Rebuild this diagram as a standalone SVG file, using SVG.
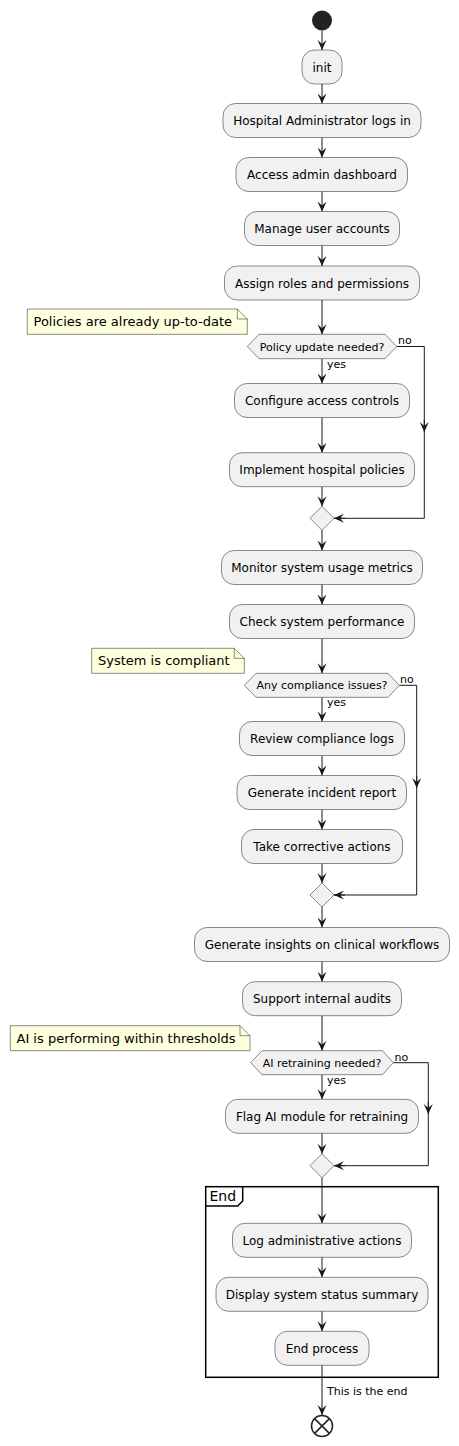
<svg xmlns="http://www.w3.org/2000/svg" width="459" height="1446" viewBox="0 0 459 1446">
<style>
.box{fill:#F1F1F1;stroke:#181818;stroke-width:0.5}
.note{fill:#FEFFDD;stroke:#181818;stroke-width:0.5}
.t{font-family:"DejaVu Sans",sans-serif;font-size:12px;fill:#000;text-anchor:middle}
.d{font-family:"DejaVu Sans",sans-serif;font-size:11px;fill:#000;text-anchor:middle}
.l{font-family:"DejaVu Sans",sans-serif;font-size:11px;fill:#000}
.n{font-family:"DejaVu Sans",sans-serif;font-size:13px;fill:#000}
.c{fill:none;stroke:#181818;stroke-width:1}
.ca{fill:none;stroke:#181818;stroke-width:1;marker-end:url(#ah)}
</style>
<defs>
<marker id="ah" viewBox="0 0 10 10" refX="10" refY="5" markerWidth="10" markerHeight="10" markerUnits="userSpaceOnUse" orient="auto">
<path d="M0,0.5 L10,5 L0,9.5 L4,5 Z" fill="#181818"/>
</marker>
</defs>
<rect width="459" height="1446" fill="#FFFFFF"/>

<g id="connectors">
<path class="ca" d="M322,30.5 L322,50"/>
<path class="ca" d="M322,84 L322,103.5"/>
<path class="ca" d="M322,137.5 L322,157.5"/>
<path class="ca" d="M322,191.5 L322,211.5"/>
<path class="ca" d="M322,245.5 L322,266"/>
<path class="ca" d="M322,300 L322,334.3"/>
<path class="ca" d="M322,358.7 L322,383.5"/>
<path class="ca" d="M322,417.5 L322,452.7"/>
<path class="ca" d="M322,486.7 L322,506.3"/>
<path class="c" d="M396.7,346.5 L424.3,346.5 L424.3,518.3 L334,518.3"/>
<path class="ca" d="M424.3,420 L424.3,432"/>
<path class="ca" d="M345,518.3 L334,518.3"/>
<path class="ca" d="M322,530.3 L322,550.5"/>
<path class="ca" d="M322,584.5 L322,604.5"/>
<path class="ca" d="M322,638.5 L322,673.3"/>
<path class="ca" d="M322,697.3 L322,721.5"/>
<path class="ca" d="M322,755.5 L322,775.5"/>
<path class="ca" d="M322,809.5 L322,829.5"/>
<path class="ca" d="M322,863.5 L322,883"/>
<path class="c" d="M399.3,685.3 L416.7,685.3 L416.7,895 L334,895"/>
<path class="ca" d="M416.7,776 L416.7,788"/>
<path class="ca" d="M345,895 L334,895"/>
<path class="ca" d="M322,907 L322,927.5"/>
<path class="ca" d="M322,961.5 L322,981.7"/>
<path class="ca" d="M322,1015.7 L322,1050.7"/>
<path class="ca" d="M322,1074.7 L322,1099.3"/>
<path class="ca" d="M322,1133.3 L322,1153.7"/>
<path class="c" d="M393.3,1062.7 L428.3,1062.7 L428.3,1165.7 L334,1165.7"/>
<path class="ca" d="M428.3,1102 L428.3,1114"/>
<path class="ca" d="M345,1165.7 L334,1165.7"/>
<path class="ca" d="M322,1177.7 L322,1223.3"/>
<path class="ca" d="M322,1257.3 L322,1277.3"/>
<path class="ca" d="M322,1311.3 L322,1331.3"/>
<path class="ca" d="M322,1365.3 L322,1415"/>
<text class="l" x="398" y="344">no</text>
<text class="l" x="327" y="367.5">yes</text>
<text class="l" x="400" y="683">no</text>
<text class="l" x="327" y="706">yes</text>
<text class="l" x="394.5" y="1060.5">no</text>
<text class="l" x="327" y="1084">yes</text>
<text class="l" x="327" y="1395">This is the end</text>
</g>

<g id="start"><circle cx="322" cy="20.5" r="10" fill="#222222"/></g>

<g id="init"><rect class="box" x="302" y="50" width="40" height="34" rx="12.5"/><text class="t" x="322" y="71.5">init</text></g>
<g id="login"><rect class="box" x="223" y="103.5" width="198" height="34" rx="12.5"/><text class="t" x="322" y="125">Hospital Administrator logs in</text></g>
<g id="dashboard"><rect class="box" x="236" y="157.5" width="171.5" height="34" rx="12.5"/><text class="t" x="322" y="179">Access admin dashboard</text></g>
<g id="manage"><rect class="box" x="244.5" y="211.5" width="155" height="34" rx="12.5"/><text class="t" x="322" y="233">Manage user accounts</text></g>
<g id="assign"><rect class="box" x="224.5" y="266" width="195" height="34" rx="12.5"/><text class="t" x="322" y="287.5">Assign roles and permissions</text></g>

<g id="note1"><path class="note" d="M27.3,309 L237.3,309 L247.3,319 L247.3,334.3 L27.3,334.3 Z"/><path class="c" style="stroke-width:0.5" d="M237.3,309 L237.3,319 L247.3,319"/><text class="n" x="33.5" y="326">Policies are already up-to-date</text></g>
<g id="dec1"><polygon class="box" points="247.3,346.5 259,334.3 385,334.3 396.7,346.5 385,358.7 259,358.7"/><text class="d" x="322" y="350.5">Policy update needed?</text></g>
<g id="configure"><rect class="box" x="234.5" y="383.5" width="175" height="34" rx="12.5"/><text class="t" x="322" y="405">Configure access controls</text></g>
<g id="implement"><rect class="box" x="229.5" y="452.7" width="185" height="34" rx="12.5"/><text class="t" x="322" y="474.2">Implement hospital policies</text></g>
<g id="merge1"><polygon class="box" points="322,506.3 334,518.3 322,530.3 310,518.3"/></g>

<g id="monitor"><rect class="box" x="221.5" y="550.5" width="201" height="34" rx="12.5"/><text class="t" x="322" y="572">Monitor system usage metrics</text></g>
<g id="check"><rect class="box" x="229.5" y="604.5" width="185" height="34" rx="12.5"/><text class="t" x="322" y="626">Check system performance</text></g>

<g id="note2"><path class="note" d="M91.7,648.3 L234.3,648.3 L244.3,658.3 L244.3,673.3 L91.7,673.3 Z"/><path class="c" style="stroke-width:0.5" d="M234.3,648.3 L234.3,658.3 L244.3,658.3"/><text class="n" x="98" y="665.3">System is compliant</text></g>
<g id="dec2"><polygon class="box" points="244.3,685.3 256,673.3 388,673.3 399.3,685.3 388,697.3 256,697.3"/><text class="d" x="322" y="689.3">Any compliance issues?</text></g>
<g id="review"><rect class="box" x="239.5" y="721.5" width="165" height="34" rx="12.5"/><text class="t" x="322" y="743">Review compliance logs</text></g>
<g id="incident"><rect class="box" x="237" y="775.5" width="169.5" height="34" rx="12.5"/><text class="t" x="322" y="797">Generate incident report</text></g>
<g id="corrective"><rect class="box" x="241.5" y="829.5" width="161" height="34" rx="12.5"/><text class="t" x="322" y="851">Take corrective actions</text></g>
<g id="merge2"><polygon class="box" points="322,883 334,895 322,907 310,895"/></g>

<g id="insights"><rect class="box" x="194.5" y="927.5" width="255" height="34" rx="12.5"/><text class="t" x="322" y="949">Generate insights on clinical workflows</text></g>
<g id="audits"><rect class="box" x="242.5" y="981.7" width="159" height="34" rx="12.5"/><text class="t" x="322" y="1003.2">Support internal audits</text></g>

<g id="note3"><path class="note" d="M10.3,1025.7 L240,1025.7 L250,1035.7 L250,1050.7 L10.3,1050.7 Z"/><path class="c" style="stroke-width:0.5" d="M240,1025.7 L240,1035.7 L250,1035.7"/><text class="n" x="16.5" y="1042.7">AI is performing within thresholds</text></g>
<g id="dec3"><polygon class="box" points="250.7,1062.7 262,1050.7 382.5,1050.7 393.3,1062.7 382.5,1074.7 262,1074.7"/><text class="d" x="322" y="1066.7">AI retraining needed?</text></g>
<g id="flag"><rect class="box" x="225.5" y="1099.3" width="193" height="34" rx="12.5"/><text class="t" x="322" y="1120.8">Flag AI module for retraining</text></g>
<g id="merge3"><polygon class="box" points="322,1153.7 334,1165.7 322,1177.7 310,1165.7"/></g>

<g id="endframe"><rect x="205.7" y="1186.7" width="232.6" height="190.6" fill="none" stroke="#000" stroke-width="1.5"/><path d="M205.7,1206 L237.7,1206 L242.7,1201 L242.7,1186.7" fill="none" stroke="#000" stroke-width="1.5"/><text class="n" style="font-size:14px" x="209.5" y="1200.5">End</text></g>
<g id="log"><rect class="box" x="232.5" y="1223.3" width="179" height="34" rx="12.5"/><text class="t" x="322" y="1244.8">Log administrative actions</text></g>
<g id="display"><rect class="box" x="216" y="1277.3" width="212" height="34" rx="12.5"/><text class="t" x="322" y="1298.8">Display system status summary</text></g>
<g id="endprocess"><rect class="box" x="275" y="1331.3" width="94" height="34" rx="12.5"/><text class="t" x="322" y="1352.8">End process</text></g>

<g id="stop"><circle cx="322" cy="1426" r="10.5" fill="none" stroke="#222222" stroke-width="1.5"/><path d="M314.6,1418.6 L329.4,1433.4 M329.4,1418.6 L314.6,1433.4" stroke="#222222" stroke-width="1.5"/></g>
</svg>
